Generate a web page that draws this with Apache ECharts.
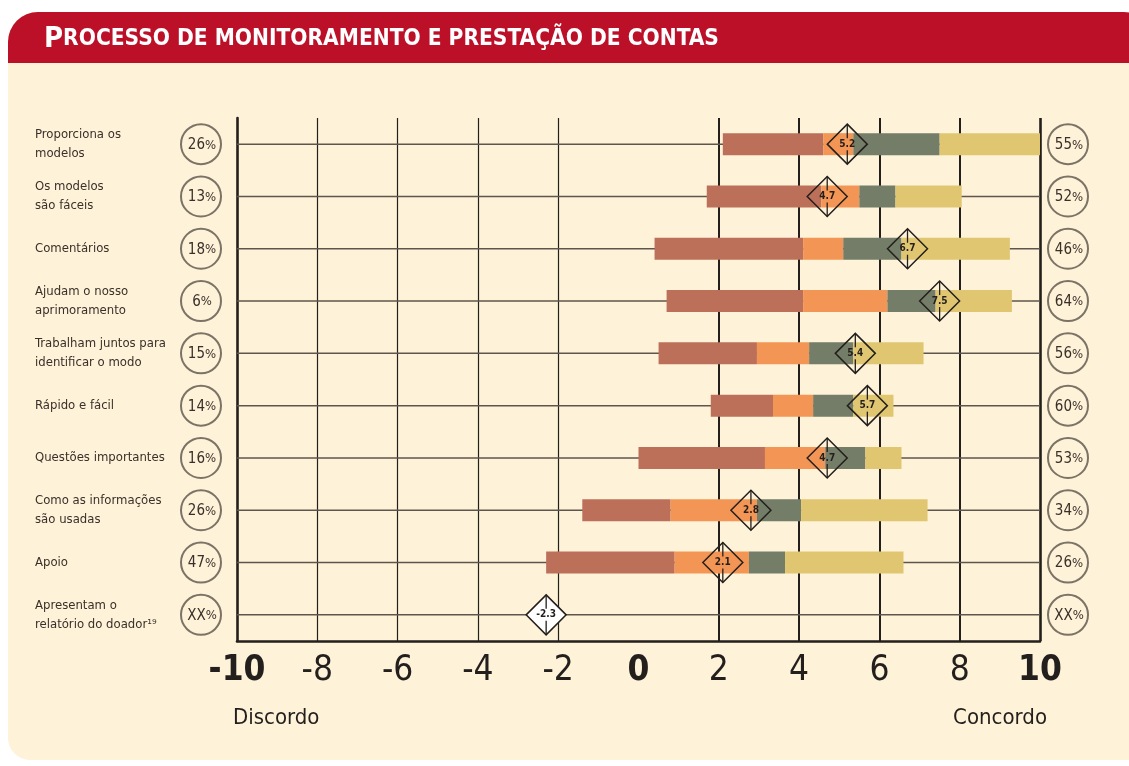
<!DOCTYPE html>
<html>
<head>
<meta charset="utf-8">
<script src="https://cdn.jsdelivr.net/npm/echarts@6.0.0/dist/echarts.min.js"></script>
<style>
  html, body { margin: 0; padding: 0; background: #ffffff; }
  #chart { width: 1129px; height: 766px; }
</style>
</head>
<body>
<div id="chart"></div>
<script>
// categorias (de cima para baixo)
const categories = [
  'Proporciona os\nmodelos',
  'Os modelos\nsão fáceis',
  'Comentários',
  'Ajudam o nosso\naprimoramento',
  'Trabalham juntos para\nidentificar o modo',
  'Rápido e fácil',
  'Questões importantes',
  'Como as informações\nsão usadas',
  'Apoio',
  'Apresentam o\nrelatório do doador¹⁹'
]
// limites de cada faixa da barra (escala -10 .. 10)
const barStart = [2.1, 1.7, 0.4, 0.7, 0.5, 1.8, 0.0, -1.4, -2.3, null]
const brownEnd = [4.6, 4.55, 4.1, 4.1, 2.95, 3.35, 3.15, 0.8, 0.9, null]
const orangeEnd = [5.35, 5.5, 5.1, 6.2, 4.25, 4.35, 4.65, 2.95, 2.75, null]
const greenEnd = [7.5, 6.4, 6.55, 7.4, 5.35, 5.35, 5.65, 4.05, 3.65, null]
const yellowEnd = [10.0, 8.05, 9.25, 9.3, 7.1, 6.35, 6.55, 7.2, 6.6, null]
// média (losango)
const means = [5.2, 4.7, 6.7, 7.5, 5.4, 5.7, 4.7, 2.8, 2.1, -2.3]
const leftPct = ['26', '13', '18', '6', '15', '14', '16', '26', '47', 'XX']
const rightPct = ['55', '52', '46', '64', '56', '60', '53', '34', '26', 'XX']
const xTicks = [-10, -8, -6, -4, -2, 0, 2, 4, 6, 8, 10]

const segColors = ['#bc7059', '#f39655', '#737d67', '#e1c672']
const FONT = '"Liberation Sans Narrow", "DejaVu Sans Condensed", "Roboto", sans-serif'
const INK = '#231f1c'

let myChart = echarts.init(document.getElementById('chart'))

let rowIdx = categories.map((c, i) => [i])

// linhas verticais da grade (sem linha no zero)
let vLines = xTicks.filter(v => v !== 0 && v !== -10).map(v => ({
  xAxis: v,
  lineStyle: {
    color: INK,
    width: v === 10 ? 2.6 : (v > 0 ? 2 : 1.2),
    type: 'solid'
  }
}))

let option = {
  backgroundColor: 'transparent',
  animation: false,
  textStyle: { fontFamily: FONT },
  graphic: [
    // painel creme
    {
      type: 'rect', z: -10, silent: true,
      shape: { x: 8, y: 12, width: 1140, height: 748, r: [30, 24, 0, 22] },
      style: { fill: '#fef2d8' }
    },
    // faixa do título
    {
      type: 'rect', z: -9, silent: true,
      shape: { x: 8, y: 12, width: 1140, height: 51, r: [30, 24, 0, 0] },
      style: { fill: '#bb1028' }
    },
    {
      type: 'text', left: 44, top: 25, z: 10,
      style: {
        text: '{a|P}{b|ROCESSO DE MONITORAMENTO E PRESTAÇÃO DE CONTAS}',
        rich: {
          a: { fontSize: 29, fontWeight: 'bold', fill: '#fff', fontFamily: FONT },
          b: { fontSize: 22.5, fontWeight: 'bold', fill: '#fff', fontFamily: FONT }
        }
      }
    },
    {
      type: 'text', left: 233, top: 707,
      style: { text: 'Discordo', fontSize: 22, fill: INK, fontFamily: FONT }
    },
    {
      type: 'text', right: 82, top: 707,
      style: { text: 'Concordo', fontSize: 22, fill: INK, fontFamily: FONT }
    }
  ],
  grid: { left: 237, right: 89, top: 118, bottom: 125 },
  xAxis: {
    type: 'value',
    min: -10,
    max: 10,
    interval: 2,
    axisLine: { show: true, onZero: false, lineStyle: { color: INK, width: 2.6 } },
    axisTick: { show: false },
    splitLine: { show: false },
    axisLabel: {
      margin: 12,
      formatter: v => (v === -10 || v === 0 || v === 10) ? '{b|' + v + '}' : '{n|' + v + '}',
      rich: {
        b: { fontSize: 35, fontWeight: 'bold', color: INK, fontFamily: FONT },
        n: { fontSize: 35, color: INK, fontFamily: FONT }
      }
    }
  },
  yAxis: {
    type: 'category',
    inverse: true,
    data: categories,
    axisLine: { show: true, onZero: false, lineStyle: { color: INK, width: 2.6 } },
    axisTick: { show: false },
    splitLine: { show: false },
    axisLabel: {
      align: 'left',
      margin: 202,
      fontSize: 13,
      lineHeight: 19,
      color: '#3a302a',
      fontFamily: FONT
    }
  },
  series: [
    // linhas horizontais de cada item + grade vertical
    {
      type: 'custom',
      z: 1,
      data: rowIdx,
      encode: { y: 0 },
      renderItem: (params, api) => {
        let i = api.value(0)
        let p1 = api.coord([-10, i])
        let p2 = api.coord([10, i])
        return {
          type: 'line',
          shape: { x1: p1[0], y1: p1[1], x2: p2[0], y2: p2[1] },
          style: { stroke: '#5e564c', lineWidth: 1.5 }
        }
      },
      markLine: {
        silent: true,
        symbol: 'none',
        z: 1,
        label: { show: false },
        data: vLines
      }
    },
    // barras empilhadas
    {
      type: 'custom',
      z: 3,
      data: categories.map((c, i) => [i, barStart[i], brownEnd[i], orangeEnd[i], greenEnd[i], yellowEnd[i]]),
      encode: { y: 0, x: [1, 2, 3, 4, 5] },
      renderItem: (params, api) => {
        let i = api.value(0)
        if (barStart[i] == null) return null
        let edges = [barStart[i], brownEnd[i], orangeEnd[i], greenEnd[i], yellowEnd[i]]
        let h = 22
        let children = []
        for (let k = 0; k < 4; k++) {
          let a = api.coord([edges[k], i])
          let b = api.coord([edges[k + 1], i])
          children.push({
            type: 'rect',
            shape: { x: a[0], y: a[1] - h / 2, width: b[0] - a[0], height: h },
            style: { fill: segColors[k] }
          })
        }
        return { type: 'group', children: children }
      }
    },
    // losangos com a média
    {
      type: 'custom',
      z: 5,
      data: means.map((m, i) => [i, m]),
      encode: { y: 0, x: 1 },
      renderItem: (params, api) => {
        let i = api.value(0)
        let m = api.value(1)
        let c = api.coord([m, i])
        let w = 20
        let h = 20
        let last = i === means.length - 1
        return {
          type: 'group',
          children: [
            {
              type: 'polygon',
              shape: { points: [[c[0], c[1] - h], [c[0] + w, c[1]], [c[0], c[1] + h], [c[0] - w, c[1]]] },
              style: { fill: last ? '#ffffff' : 'transparent', stroke: INK, lineWidth: 1.5 }
            },
            {
              type: 'line',
              shape: { x1: c[0], y1: c[1] - h, x2: c[0], y2: c[1] - 6 },
              style: { stroke: INK, lineWidth: 1.3 }
            },
            {
              type: 'line',
              shape: { x1: c[0], y1: c[1] + 6, x2: c[0], y2: c[1] + h },
              style: { stroke: INK, lineWidth: 1.3 }
            },
            {
              type: 'text',
              style: {
                text: String(m),
                x: c[0], y: c[1],
                align: 'center', verticalAlign: 'middle',
                fontSize: 10, fontWeight: 'bold', fill: INK, fontFamily: FONT
              }
            }
          ]
        }
      }
    },
    // círculos com percentuais
    {
      type: 'custom',
      z: 5,
      clip: false,
      data: rowIdx,
      encode: { y: 0 },
      renderItem: (params, api) => {
        let i = api.value(0)
        let l = api.coord([-10, i])
        let r = api.coord([10, i])
        let pct = (x, y, t) => [
          {
            type: 'circle',
            shape: { cx: x, cy: y, r: 20 },
            style: { fill: 'transparent', stroke: '#7b7366', lineWidth: 2 }
          },
          {
            type: 'text',
            style: {
              text: '{n|' + t + '}{p|%}',
              x: x + 1, y: y + 1,
              align: 'center', verticalAlign: 'middle',
              rich: {
                n: { fontSize: 15, fill: '#3a302a', fontFamily: FONT },
                p: { fontSize: 13, fill: '#3a302a', fontFamily: FONT }
              }
            }
          }
        ]
        return {
          type: 'group',
          children: pct(l[0] - 36, l[1], leftPct[i]).concat(pct(r[0] + 28, r[1], rightPct[i]))
        }
      }
    }
  ]
}
myChart.setOption(option)
</script>
</body>
</html>
